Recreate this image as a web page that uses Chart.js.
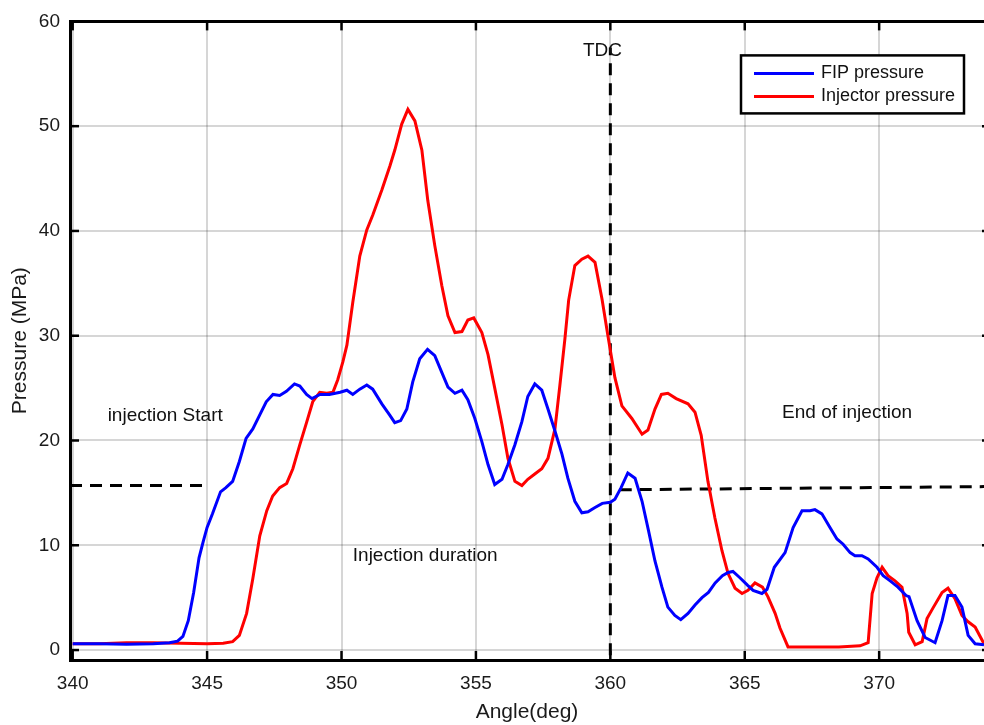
<!DOCTYPE html>
<html>
<head>
<meta charset="utf-8">
<script src="https://cdn.jsdelivr.net/npm/chart.js@4.4.0/dist/chart.umd.min.js"></script>
<style>
  html, body { margin: 0; padding: 0; background: #fff; }
</style>
</head>
<body>
<canvas id="pressureChart" width="984" height="725"></canvas>
<script>
// tick labels
const angleTicks = [340, 345, 350, 355, 360, 365, 370]
const pressureTicks = [0, 10, 20, 30, 40, 50, 60]

// FIP pressure (blue)
const fipAngle = [340.0, 341.0, 342.0, 343.0, 343.6, 343.9, 344.1, 344.3, 344.5, 344.7, 344.85, 345.0, 345.2, 345.5, 345.7, 345.95,
  346.2, 346.45, 346.7, 346.95, 347.2, 347.45, 347.7, 347.95, 348.25, 348.45, 348.7, 348.9, 349.2, 349.55, 349.95,
  350.2, 350.42, 350.68, 350.94, 351.16, 351.5, 351.8, 351.98, 352.2, 352.43, 352.65, 352.91, 353.2, 353.47, 353.73,
  353.96, 354.22, 354.48, 354.7, 354.96, 355.22, 355.45, 355.7, 355.97, 356.19, 356.45, 356.71, 356.93, 357.19,
  357.45, 357.68, 357.94, 358.2, 358.42, 358.68, 358.94, 359.17, 359.43, 359.7, 360.0, 360.17, 360.4, 360.65, 360.92,
  361.18, 361.42, 361.66, 361.92, 362.14, 362.4, 362.62, 362.89, 363.15, 363.41, 363.65, 363.9, 364.17, 364.38,
  364.56, 364.82, 365.1, 365.31, 365.64, 365.83, 366.1, 366.5, 366.8, 367.13, 367.43, 367.61, 367.87, 368.17, 368.43,
  368.66, 368.92, 369.1, 369.36, 369.59, 369.92, 370.15, 370.41, 370.7, 371.0, 371.11, 371.41, 371.71, 372.08,
  372.34, 372.56, 372.82, 373.08, 373.31, 373.57, 373.9]
const fipPressure = [0.6, 0.6, 0.55, 0.6, 0.7, 0.85, 1.3, 2.8, 5.5, 8.8, 10.3, 11.7, 13.0, 15.1, 15.5, 16.1,
  18.0, 20.2, 21.1, 22.4, 23.7, 24.4, 24.3, 24.7, 25.4, 25.2, 24.4, 24.0, 24.4, 24.4, 24.6,
  24.8, 24.4, 24.9, 25.3, 24.9, 23.5, 22.4, 21.7, 21.9, 23.0, 25.6, 27.8, 28.7, 28.1, 26.5,
  25.1, 24.5, 24.8, 23.9, 22.1, 19.9, 17.7, 15.8, 16.3, 17.7, 19.6, 21.8, 24.2, 25.4,
  24.8, 23.0, 20.9, 18.7, 16.4, 14.2, 13.1, 13.2, 13.6, 14.0, 14.1, 14.4, 15.5, 16.9, 16.4,
  14.2, 11.4, 8.5, 6.0, 4.1, 3.3, 2.9, 3.5, 4.3, 5.0, 5.5, 6.4, 7.1, 7.4,
  7.5, 6.9, 6.2, 5.7, 5.4, 5.8, 7.9, 9.3, 11.7, 13.3, 13.3, 13.4, 13.0, 11.7, 10.6,
  10.1, 9.3, 9.0, 9.0, 8.7, 7.9, 7.1, 6.6, 6.0, 5.2, 5.1, 2.8, 1.2, 0.7,
  2.8, 5.2, 5.2, 4.1, 1.4, 0.6, 0.5]

// Injector pressure (red)
const injAngle = [340.0, 341.0, 342.0, 343.0, 344.0, 345.0, 345.6, 345.95, 346.2, 346.47, 346.7, 346.96, 347.22, 347.44,
  347.7, 347.96, 348.19, 348.45, 348.71, 348.93, 349.19, 349.45, 349.68, 349.86, 350.05, 350.2, 350.42, 350.68,
  350.94, 351.16, 351.5, 351.8, 351.98, 352.24, 352.47, 352.73, 352.99, 353.21, 353.47, 353.73, 353.96, 354.22,
  354.48, 354.7, 354.92, 355.22, 355.45, 355.7, 355.97, 356.19, 356.45, 356.71, 356.93, 357.19, 357.45, 357.68,
  357.94, 358.12, 358.31, 358.45, 358.68, 358.94, 359.17, 359.43, 359.69, 359.91, 360.17, 360.43, 360.8, 361.18,
  361.4, 361.66, 361.9, 362.14, 362.45, 362.89, 363.15, 363.38, 363.63, 363.89, 364.15, 364.38, 364.64, 364.9,
  365.12, 365.38, 365.66, 365.86, 366.13, 366.31, 366.61, 367.5, 368.5, 369.29, 369.59, 369.74, 369.92, 370.11,
  370.33, 370.59, 370.85, 371.04, 371.1, 371.34, 371.6, 371.78, 372.0, 372.34, 372.56, 372.82, 373.08, 373.31,
  373.57, 373.9]
const injPressure = [0.6, 0.6, 0.7, 0.7, 0.65, 0.6, 0.65, 0.8, 1.4, 3.5, 6.8, 10.9, 13.3, 14.7,
  15.5, 15.9, 17.3, 19.6, 21.8, 23.7, 24.6, 24.5, 24.6, 25.8, 27.5, 29.1, 33.2, 37.6,
  40.1, 41.5, 43.9, 46.2, 47.7, 50.2, 51.6, 50.5, 47.7, 42.9, 38.6, 34.8, 31.9, 30.3,
  30.4, 31.5, 31.7, 30.3, 28.2, 25.0, 21.5, 18.3, 16.1, 15.7, 16.3, 16.8, 17.3, 18.3,
  21.1, 25.2, 29.7, 33.4, 36.7, 37.3, 37.6, 37.0, 33.5, 30.0, 26.0, 23.3, 22.1, 20.6,
  21.0, 23.0, 24.4, 24.5, 24.0, 23.5, 22.7, 20.5, 16.1, 12.6, 9.5, 7.3, 5.9, 5.4,
  5.7, 6.4, 6.0, 5.1, 3.5, 2.1, 0.3, 0.3, 0.3, 0.4, 0.7, 5.4, 6.9, 7.9,
  7.1, 6.6, 6.0, 3.5, 1.7, 0.5, 0.8, 3.0, 4.0, 5.5, 5.9, 4.9, 3.3, 2.7,
  2.2, 0.6]

// dashed reference lines
const startLineAngle = [339.9, 344.9]
const startLinePressure = [15.7, 15.7]
const endLineAngle = [360.35, 373.9]
const endLinePressure = [15.3, 15.6]
const tdcAngle = [360, 360]
const tdcPressure = [-0.5, 57.5]

const FONT = 'Liberation Sans, Arial, sans-serif'
let pressureChart

function toPoints(xs, ys) {
  return xs.map((x, i) => ({ x: x, y: ys[i] }))
}

function dashed(xs, ys) {
  return {
    data: toPoints(xs, ys),
    borderColor: '#000',
    borderWidth: 3,
    borderDash: [12, 8],
    pointRadius: 0,
    fill: false
  }
}

function strokeLine(ctx, x1, y1, x2, y2) {
  ctx.beginPath()
  ctx.moveTo(x1, y1)
  ctx.lineTo(x2, y2)
  ctx.stroke()
}

// top border, inward tick marks, text notes and the boxed legend
const decorations = {
  id: 'decorations',
  afterDatasetsDraw(chart) {
    const ctx = chart.ctx
    const a = chart.chartArea
    const x = chart.scales.x
    const y = chart.scales.y
    ctx.save()
    ctx.strokeStyle = '#000'
    ctx.lineWidth = 3
    strokeLine(ctx, a.left, a.top, a.right, a.top)
    ctx.lineWidth = 2.5
    angleTicks.forEach(v => {
      const px = x.getPixelForValue(v)
      strokeLine(ctx, px, a.bottom, px, a.bottom - 9)
      strokeLine(ctx, px, a.top, px, a.top + 9)
    })
    pressureTicks.forEach(v => {
      const py = y.getPixelForValue(v)
      strokeLine(ctx, a.left, py, a.left + 9, py)
      strokeLine(ctx, a.right, py, a.right - 2, py)
    })

    // notes
    ctx.fillStyle = '#111'
    ctx.font = '19px ' + FONT
    ctx.textBaseline = 'middle'
    ctx.textAlign = 'left'
    ctx.fillText('TDC', x.getPixelForValue(358.98), y.getPixelForValue(57.2))
    ctx.fillText('injection Start', x.getPixelForValue(341.3), y.getPixelForValue(22.4))
    ctx.fillText('Injection duration', x.getPixelForValue(350.42), y.getPixelForValue(9.0))
    ctx.fillText('End of injection', x.getPixelForValue(366.39), y.getPixelForValue(22.65))

    // legend box
    const bx = a.right - 243, by = a.top + 34, bw = 223, bh = 58
    ctx.fillStyle = '#fff'
    ctx.fillRect(bx, by, bw, bh)
    ctx.lineWidth = 2.5
    ctx.strokeStyle = '#000'
    ctx.strokeRect(bx, by, bw, bh)
    ctx.font = '18px ' + FONT
    chart.data.datasets.slice(0, 2).forEach((ds, i) => {
      const ly = by + 18 + i * 23
      ctx.strokeStyle = ds.borderColor
      ctx.lineWidth = 3
      strokeLine(ctx, bx + 13, ly, bx + 73, ly)
      ctx.fillStyle = '#111'
      ctx.fillText(ds.label, bx + 80, ly)
    })
    ctx.restore()
  }
}

function initChart() {
  pressureChart = new Chart(document.getElementById('pressureChart'), {
    type: 'line',
    data: {
      datasets: [
        {
          label: 'FIP pressure',
          data: toPoints(fipAngle, fipPressure),
          borderColor: '#0000ff',
          borderWidth: 3,
          pointRadius: 0,
          fill: false
        },
        {
          label: 'Injector pressure',
          data: toPoints(injAngle, injPressure),
          borderColor: '#ff0000',
          borderWidth: 3,
          pointRadius: 0,
          fill: false
        },
        dashed(startLineAngle, startLinePressure),
        dashed(endLineAngle, endLinePressure),
        dashed(tdcAngle, tdcPressure)
      ]
    },
    options: {
      responsive: false,
      animation: false,
      layout: { padding: { top: 17, right: 0, left: 0, bottom: 0 } },
      plugins: { legend: { display: false }, tooltip: { enabled: false } },
      elements: { line: { tension: 0 } },
      scales: {
        x: {
          type: 'linear',
          min: 339.9,
          max: 373.9,
          afterBuildTicks: s => { s.ticks = angleTicks.map(v => ({ value: v })) },
          afterFit: s => { s.height = 65 },
          grid: { color: 'rgba(0,0,0,0.16)', lineWidth: 2, drawTicks: false },
          border: { display: true, color: '#000', width: 3 },
          ticks: { padding: 12, color: '#1a1a1a', maxRotation: 0, font: { family: FONT, size: 19 } },
          title: { display: true, text: 'Angle(deg)', color: '#1a1a1a', padding: { top: 4, bottom: 0 }, font: { family: FONT, size: 21 } }
        },
        y: {
          min: -0.95,
          max: 60,
          afterBuildTicks: s => { s.ticks = pressureTicks.map(v => ({ value: v })) },
          afterFit: s => { s.width = 70 },
          grid: { color: 'rgba(0,0,0,0.16)', lineWidth: 2, drawTicks: false },
          border: { display: true, color: '#000', width: 3 },
          ticks: { padding: 10, color: '#1a1a1a', font: { family: FONT, size: 19 } },
          title: { display: true, text: 'Pressure (MPa)', color: '#1a1a1a', padding: { top: 8, bottom: 4 }, font: { family: FONT, size: 21 } }
        }
      }
    },
    plugins: [decorations]
  })
}

initChart()
</script>
</body>
</html>
